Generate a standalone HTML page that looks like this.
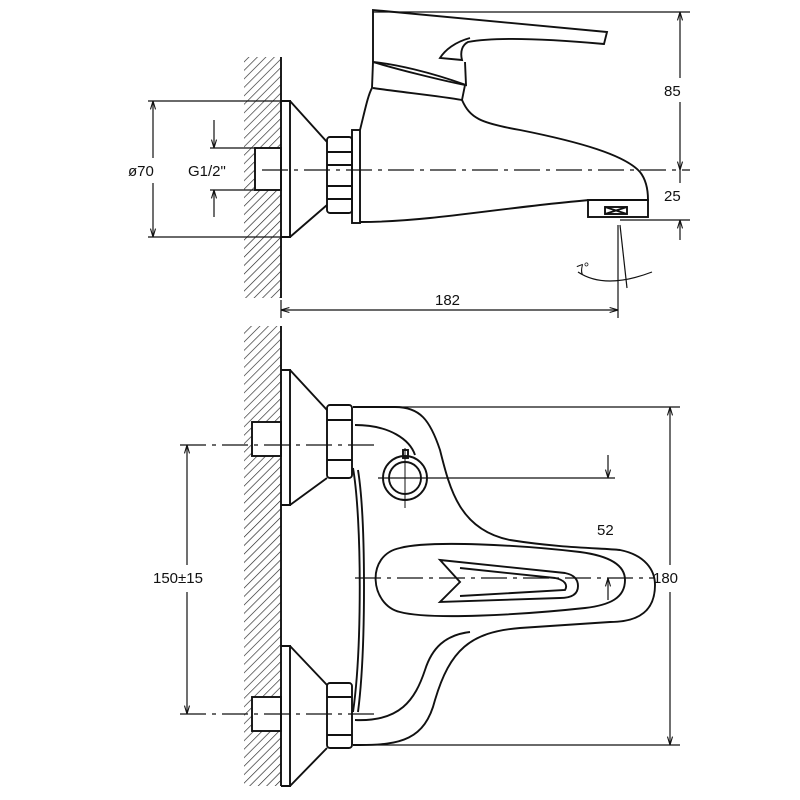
<!DOCTYPE html>
<html><head><style>html,body{margin:0;padding:0;background:#fff}svg{display:block}</style></head><body>
<svg width="800" height="800" viewBox="0 0 800 800" xmlns="http://www.w3.org/2000/svg" font-family="Liberation Sans, sans-serif" font-size="15" fill="none" stroke="#111" stroke-width="1.9">
<defs>
<pattern id="h" width="6" height="6" patternUnits="userSpaceOnUse" patternTransform="rotate(45)"><line x1="0" y1="0" x2="0" y2="6" stroke="#222" stroke-width="1.3"/></pattern>
<marker id="a" viewBox="0 0 10 10" refX="10" refY="5" markerWidth="7" markerHeight="7" orient="auto-start-reverse"><path d="M0,2 L10,5 L0,8" fill="none" stroke="#111" stroke-width="1.3"/></marker>
</defs>
<!-- TOP VIEW wall -->
<rect x="244" y="57" width="37" height="241" fill="url(#h)" stroke="none"/>
<rect x="255" y="148" width="26" height="42" fill="#fff" stroke="#111"/>
<line x1="281" y1="57" x2="281" y2="298"/>
<path d="M281 101 H290 V237 H281 M290 101 L327 142 M290 237 L327 205"/>
<rect x="327" y="137" width="25" height="76" rx="3"/>
<path d="M327 152 H352 M327 165 H352 M327 186 H352 M327 199 H352"/>
<rect x="352" y="130" width="8" height="93"/>
<path d="M360 130 C365 110 368 95 372 88 L373 62 C400 70 440 80 465 85 L462 100 C470 118 480 123 520 130 C580 142 625 155 640 172 C648 182 648 195 648 200 L590 200 C540 204 470 214 430 218 C400 221 375 222 360 222"/>
<path d="M373 62 L373 10 L607 32 L604 44 C560 40 500 36 468 42 C462 45 460 52 462 60 L440 58 C445 50 455 42 470 38"/>
<path d="M373 62 C395 64 430 72 466 85 L465 62"/>
<path d="M373 88 C400 92 440 96 462 100"/>
<rect x="588" y="200" width="60" height="17"/>
<rect x="605" y="207" width="22" height="7"/>
<line x1="605" y1="207" x2="627" y2="214"/><line x1="627" y1="207" x2="605" y2="214"/>
<line x1="262" y1="170" x2="690" y2="170" stroke-dasharray="26 6 4 6" stroke-width="1.3"/>
<g stroke-width="1.2">
<line x1="373" y1="12" x2="690" y2="12"/>
<line x1="620" y1="220" x2="690" y2="220"/>
<line x1="680" y1="12" x2="680" y2="78" marker-start="url(#a)"/>
<line x1="680" y1="102" x2="680" y2="170" marker-end="url(#a)"/>
<line x1="680" y1="170" x2="680" y2="183"/>
<line x1="680" y1="220" x2="680" y2="240" marker-start="url(#a)"/>
<line x1="148" y1="101" x2="290" y2="101"/>
<line x1="148" y1="237" x2="290" y2="237"/>
<line x1="153" y1="101" x2="153" y2="158" marker-start="url(#a)"/>
<line x1="153" y1="183" x2="153" y2="237" marker-end="url(#a)"/>
<line x1="210" y1="148" x2="255" y2="148"/>
<line x1="210" y1="190" x2="255" y2="190"/>
<line x1="214" y1="120" x2="214" y2="148" marker-end="url(#a)"/>
<line x1="214" y1="190" x2="214" y2="217" marker-start="url(#a)"/>
<line x1="281" y1="300" x2="281" y2="318"/>
<line x1="281" y1="310" x2="618" y2="310" marker-start="url(#a)" marker-end="url(#a)"/>
<line x1="618" y1="225" x2="618" y2="318"/>
<line x1="620" y1="225" x2="627" y2="288"/>
<path d="M578 272 Q605 290 652 272"/>
</g>
<g fill="#111" stroke="none">
<text x="664" y="96">85</text>
<text x="664" y="201">25</text>
<text x="128" y="176">ø70</text>
<text x="188" y="176">G1/2"</text>
<text x="435" y="305">182</text>
<text x="577" y="273" transform="rotate(-20 585 268)" font-size="14">7°</text>
</g>
<!-- BOTTOM VIEW -->
<rect x="244" y="326" width="37" height="460" fill="url(#h)" stroke="none"/>
<rect x="252" y="422" width="29" height="34" fill="#fff" stroke="#111"/>
<rect x="252" y="697" width="29" height="34" fill="#fff" stroke="#111"/>
<line x1="281" y1="326" x2="281" y2="786"/>
<path d="M281 370 H290 V505 H281 M290 370 L327 410 M290 505 L327 478"/>
<rect x="327" y="405" width="25" height="73" rx="3"/>
<path d="M327 420 H352 M327 460 H352"/>
<path d="M281 646 H290 V786 H281 M290 646 L327 685 M290 786 L327 748"/>
<rect x="327" y="683" width="25" height="65" rx="3"/>
<path d="M327 697 H352 M327 735 H352"/>
<path d="M353 407 H395 C420 407 430 420 440 450 C450 490 460 530 510 540 C560 548 600 548 620 550 C645 555 655 570 655 585 C655 610 640 622 610 622 L520 628 C470 632 450 650 435 700 C425 740 400 745 360 745 H353"/>
<path d="M355 425 C390 425 410 440 415 455"/>
<path d="M355 720 C400 722 415 700 425 670 C432 648 445 635 470 632"/>
<path d="M353 468 C362 520 362 650 353 712"/>
<path d="M358 470 C366 520 366 650 358 712"/>
<path d="M400 548 C430 540 520 545 580 552 C610 556 625 565 625 580 C625 598 610 605 585 608 C520 615 430 620 400 612 C370 605 365 555 400 548 Z"/>
<path d="M440 560 L565 573 C575 575 578 580 578 586 C578 595 570 598 560 598 L440 602 L460 582 Z"/>
<path d="M460 568 L555 578 C565 580 568 585 565 590 L460 596"/>
<circle cx="405" cy="478" r="22"/>
<circle cx="405" cy="478" r="16"/>
<rect x="403" y="450" width="5" height="8"/>
<line x1="405" y1="448" x2="405" y2="508" stroke-width="1"/>
<g stroke-width="1.3" stroke-dasharray="26 6 4 6">
<line x1="180" y1="445" x2="375" y2="445"/>
<line x1="180" y1="714" x2="375" y2="714"/>
<line x1="355" y1="578" x2="655" y2="578"/>
</g>
<g stroke-width="1.2">
<line x1="355" y1="407" x2="680" y2="407"/>
<line x1="355" y1="745" x2="680" y2="745"/>
<line x1="670" y1="407" x2="670" y2="565" marker-start="url(#a)"/>
<line x1="670" y1="592" x2="670" y2="745" marker-end="url(#a)"/>
<line x1="187" y1="445" x2="187" y2="565" marker-start="url(#a)"/>
<line x1="187" y1="592" x2="187" y2="714" marker-end="url(#a)"/>
<line x1="378" y1="478" x2="615" y2="478"/>
<line x1="608" y1="455" x2="608" y2="478" marker-end="url(#a)"/>
<line x1="608" y1="578" x2="608" y2="600" marker-start="url(#a)"/>
</g>
<g fill="#111" stroke="none">
<text x="153" y="583">150±15</text>
<text x="653" y="583">180</text>
<text x="597" y="535">52</text>
</g>
</svg>
</body></html>
